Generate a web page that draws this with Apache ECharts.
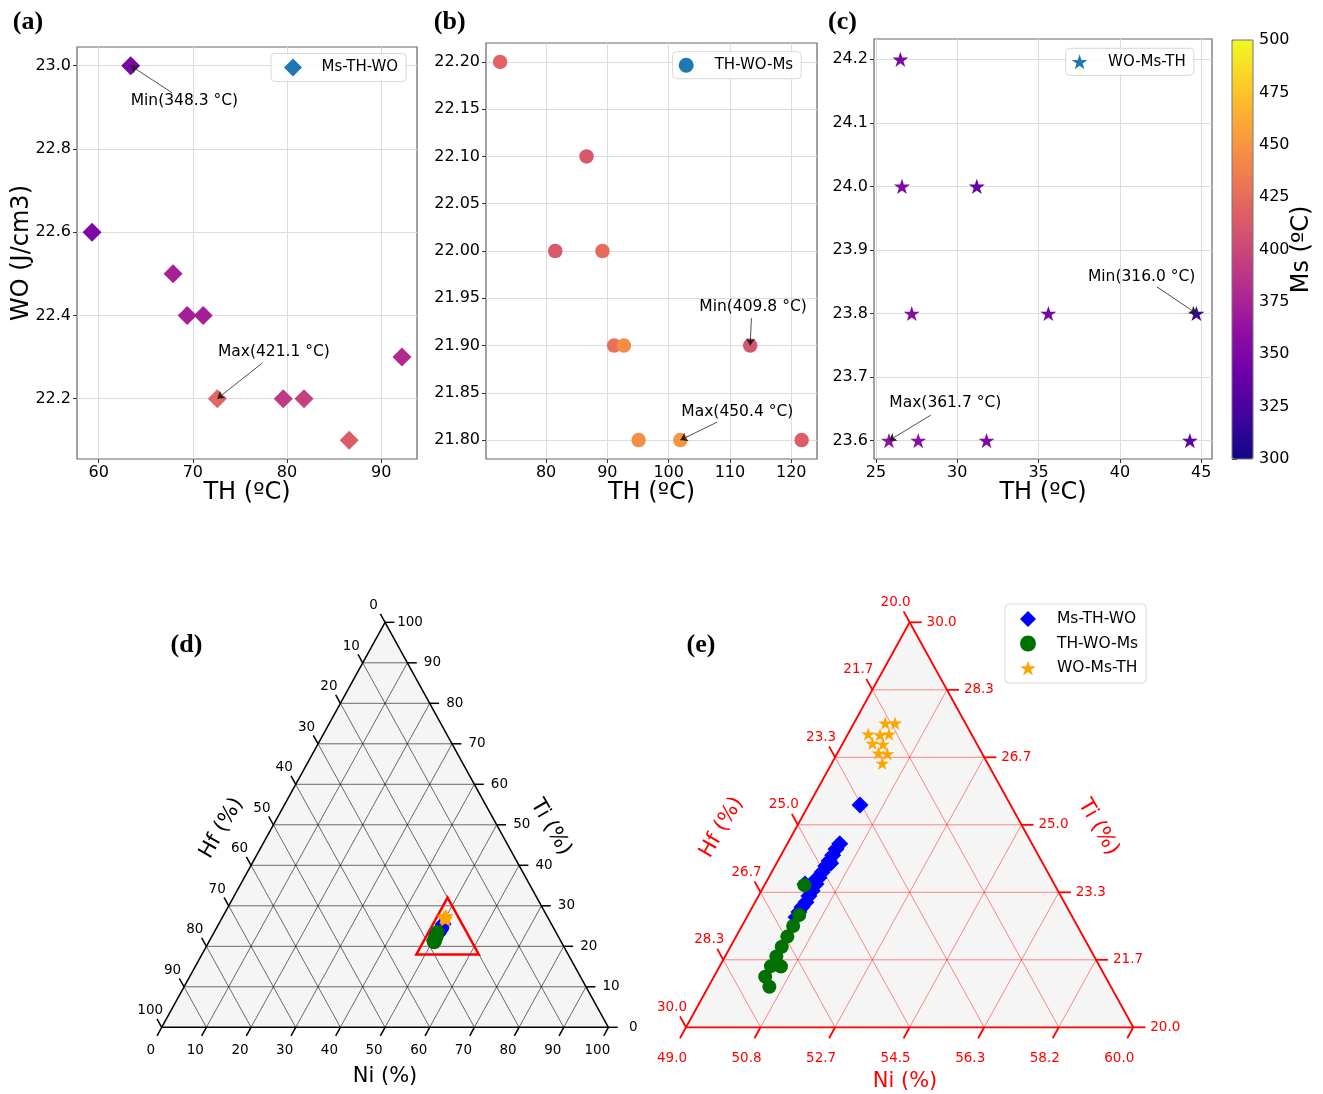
<!DOCTYPE html>
<html>
<head>
<meta charset="utf-8">
<script src="https://cdn.jsdelivr.net/npm/echarts@6.0.0/dist/echarts.min.js"></script>
<style>
  html, body { margin: 0; padding: 0; background: #fff; }
  #main { width: 1323px; height: 1094px; }
</style>
</head>
<body>
<div id="main"></div>
<script>
// panel (a) Ms-TH-WO
var aTH = [63.4, 59.3, 67.9, 69.4, 71.1, 72.6, 79.6, 81.8, 86.6, 92.2];
var aWO = [23.0, 22.6, 22.5, 22.4, 22.4, 22.2, 22.2, 22.2, 22.1, 22.3];
var aMs = [348.3, 352, 374, 372, 373, 421.1, 390, 396, 415, 380];
// panel (b) TH-WO-Ms
var bTH = [72.5, 86.6, 81.5, 89.2, 91.1, 92.7, 113.3, 95.1, 101.9, 121.7];
var bWO = [22.2, 22.1, 22.0, 22.0, 21.9, 21.9, 21.9, 21.8, 21.8, 21.8];
var bMs = [420, 411, 412, 425, 428, 444, 409.8, 446, 450.4, 415];
// panel (c) WO-Ms-TH
var cTH = [26.5, 26.6, 31.2, 27.2, 35.6, 44.7, 25.8, 27.6, 31.8, 44.3];
var cWO = [24.2, 24.0, 24.0, 23.8, 23.8, 23.8, 23.6, 23.6, 23.6, 23.6];
var cMs = [350, 352, 338, 355, 345, 316.0, 361.7, 358, 352, 333];

var aXTicks = [60, 70, 80, 90];
var aYTicks = [22.2, 22.4, 22.6, 22.8, 23.0];
var bXTicks = [80, 90, 100, 110, 120];
var bYTicks = [21.8, 21.85, 21.9, 21.95, 22.0, 22.05, 22.1, 22.15, 22.2];
var cXTicks = [25, 30, 35, 40, 45];
var cYTicks = [23.6, 23.7, 23.8, 23.9, 24.0, 24.1, 24.2];
var msTicks = [300, 325, 350, 375, 400, 425, 450, 475, 500];

// compositions [Ni %, Ti %], Hf is the rest
var msthwoComp = [
  [50.26, 25.49], [50.29, 24.53], [50.27, 24.40], [50.27, 24.25], [50.26, 24.11],
  [50.25, 23.98], [50.24, 23.83], [50.24, 23.69], [50.25, 23.54], [49.98, 23.54],
  [50.25, 23.37], [50.24, 23.24], [50.25, 23.09], [50.22, 22.97], [50.21, 22.85],
  [50.21, 22.72], [50.33, 24.05], [50.17, 23.62]
];
var thwomsComp = [
  [49.98, 23.51], [50.26, 22.77], [50.26, 22.50], [50.26, 22.24], [50.26, 21.99],
  [50.26, 21.75], [50.51, 21.50], [50.26, 21.51], [50.26, 21.25], [50.50, 21.00]
];
var womsthComp = [
  [50.01, 27.51], [49.77, 27.51], [49.50, 27.24], [49.80, 27.22], [50.01, 27.24],
  [49.73, 27.01], [50.00, 26.99], [50.01, 26.77], [50.24, 26.75], [50.24, 26.52]
];
// zoom region marked in (d)
var zoomBox = [[48, 18], [62, 18], [48, 32]];

var dTickLabels = ['0', '10', '20', '30', '40', '50', '60', '70', '80', '90', '100'];
var eNiLabels = ['49.0', '50.8', '52.7', '54.5', '56.3', '58.2', '60.0'];
var eTiLabels = ['20.0', '21.7', '23.3', '25.0', '26.7', '28.3', '30.0'];
var eHfLabels = ['20.0', '21.7', '23.3', '25.0', '26.7', '28.3', '30.0'];

var plasma = ['#0d0887', '#41049d', '#6a00a8', '#8f0da4', '#b12a90', '#cc4778',
  '#e16462', '#f2844b', '#fca636', '#fcce25', '#f0f921'];
var starPath = 'path://M50,0L61.23,34.55L97.55,34.55L68.17,55.9L79.39,90.45L50,69.1L20.61,90.45L31.83,55.9L2.45,34.55L38.77,34.55Z';

function zip3(x, y, z) {
  return x.map(function (v, i) { return [v, y[i], z[i]]; });
}

// a = fraction along bottom axis, b = fraction along right axis (height)
function tXY(a, b) { return [a + b / 2, b]; }
function dPos(p) { return tXY(p[0] / 100, p[1] / 100); }
function ePos(p) { return tXY((p[0] - 49) / 11, (p[1] - 20) / 10); }

function topAxis(gi, min, max, ticks, digits, name, gap) {
  return {
    gridIndex: gi, type: 'value', min: min, max: max,
    name: name, nameLocation: 'middle', nameGap: gap, nameMoveOverlap: false,
    nameTextStyle: { fontSize: 24, color: '#000' },
    axisLine: { show: false, onZero: false },
    axisTick: { show: true, customValues: ticks, length: 4, lineStyle: { color: '#333' } },
    axisLabel: {
      customValues: ticks, fontSize: 16, color: '#000', margin: 6,
      formatter: function (v) { return v.toFixed(digits); }
    },
    splitLine: { show: true, lineStyle: { color: '#dcdcdc', width: 1 } }
  };
}

function hiddenAxis(gi) {
  return { gridIndex: gi, type: 'value', min: 0, max: 1, show: false };
}

function annotSeries(gi, th, wo, ms, notes) {
  var marks = [];
  var lines = [];
  notes.forEach(function (n) {
    var v = n.kind === 'min' ? Math.min.apply(null, ms) : Math.max.apply(null, ms);
    var idx = ms.indexOf(v);
    var txt = (n.kind === 'min' ? 'Min(' : 'Max(') + v.toFixed(1) + ' °C)';
    marks.push({ value: n.textAt, name: txt });
    lines.push([{ coord: n.from }, { coord: [th[idx], wo[idx]] }]);
  });
  return {
    type: 'scatter', xAxisIndex: gi, yAxisIndex: gi, silent: true, z: 6,
    symbolSize: 0, itemStyle: { color: 'transparent', opacity: 1 }, data: marks,
    label: { show: true, position: 'right', distance: 0, formatter: '{b}', fontSize: 15.5, color: '#000', opacity: 1 },
    markLine: {
      silent: true, symbol: ['none', 'arrow'], symbolSize: 7, precision: 4,
      label: { show: false },
      lineStyle: { color: '#222', width: 0.8, type: 'solid', opacity: 1 },
      data: lines
    }
  };
}

function segSeries(gi, segs, color, width, z) {
  return {
    type: 'custom', xAxisIndex: gi, yAxisIndex: gi, silent: true, z: z, clip: false,
    data: segs, encode: { x: [0, 2], y: [1, 3] },
    renderItem: function (params, api) {
      var p1 = api.coord([api.value(0), api.value(1)]);
      var p2 = api.coord([api.value(2), api.value(3)]);
      return {
        type: 'line',
        shape: { x1: p1[0], y1: p1[1], x2: p2[0], y2: p2[1] },
        style: { stroke: color, lineWidth: width }
      };
    }
  };
}

function polySeries(gi, polys, fill, stroke, width, z) {
  return {
    type: 'custom', xAxisIndex: gi, yAxisIndex: gi, silent: true, z: z, clip: false,
    data: polys.map(function (p, i) { return [0, 0]; }),
    renderItem: function (params, api) {
      var pts = polys[params.dataIndex].map(function (q) { return api.coord(q); });
      return {
        type: 'polygon', shape: { points: pts },
        style: { fill: fill, stroke: stroke, lineWidth: width, lineJoin: 'miter' }
      };
    }
  };
}

function labelSeries(gi, pts, texts, offset, color) {
  return {
    type: 'scatter', xAxisIndex: gi, yAxisIndex: gi, silent: true, z: 4, clip: false,
    symbolSize: 0, itemStyle: { color: 'transparent', opacity: 1 },
    data: pts.map(function (p, i) { return { value: p, name: texts[i] }; }),
    label: { show: true, position: 'inside', offset: offset, formatter: '{b}', fontSize: 13.5, color: color, opacity: 1 }
  };
}

function ternaryFrame(gi, labels, tickLen, st) {
  var n = labels.bottom.length - 1;
  var grid = [], ticks = [], k, f;
  for (k = 1; k < n; k++) {
    f = k / n;
    grid.push(tXY(0, f).concat(tXY(1 - f, f)));
    grid.push(tXY(f, 0).concat(tXY(f, 1 - f)));
    grid.push(tXY(1 - f, 0).concat(tXY(0, 1 - f)));
  }
  for (k = 0; k <= n; k++) {
    f = k / n;
    ticks.push(tXY(f, 0).concat(tXY(f, -tickLen)));
    ticks.push(tXY(0, 1 - f).concat(tXY(-tickLen, 1 - f + tickLen)));
    ticks.push(tXY(1 - f, f).concat(tXY(1 - f + tickLen, f)));
  }
  var edges = [
    tXY(0, 0).concat(tXY(1, 0)),
    tXY(1, 0).concat(tXY(0, 1)),
    tXY(0, 1).concat(tXY(0, 0))
  ];
  var bottom = labels.bottom.map(function (t, i) { return tXY(i / n, 0); });
  var left = labels.left.map(function (t, i) { return tXY(0, 1 - i / n); });
  var right = labels.right.map(function (t, i) { return tXY(1 - i / n, i / n); });
  return [
    polySeries(gi, [[tXY(0, 0), tXY(1, 0), tXY(0, 1)]], '#f5f5f5', 'none', 0, 1),
    segSeries(gi, grid, st.grid, st.gridWidth, 2),
    segSeries(gi, edges.concat(ticks), st.edge, st.edgeWidth, 3),
    labelSeries(gi, bottom, labels.bottom, st.offB, st.label),
    labelSeries(gi, left, labels.left, st.offL, st.label),
    labelSeries(gi, right, labels.right, st.offR, st.label)
  ];
}

function pointSeries(gi, name, comp, pos, symbol, size, color) {
  return {
    type: 'scatter', name: name, xAxisIndex: gi, yAxisIndex: gi, clip: false, z: 5,
    symbol: symbol, symbolSize: size, symbolKeepAspect: true,
    itemStyle: { color: color, opacity: 1 }, data: comp.map(pos)
  };
}

var chart = echarts.init(document.getElementById('main'), null, { renderer: 'canvas' });

var series = [
  { type: 'scatter', name: 'Ms-TH-WO', xAxisIndex: 0, yAxisIndex: 0, z: 3,
    symbol: 'diamond', symbolSize: 19, itemStyle: { opacity: 1 }, data: zip3(aTH, aWO, aMs) },
  { type: 'scatter', name: 'TH-WO-Ms', xAxisIndex: 1, yAxisIndex: 1, z: 3,
    symbol: 'circle', symbolSize: 14.5, itemStyle: { opacity: 1 }, data: zip3(bTH, bWO, bMs) },
  { type: 'scatter', name: 'WO-Ms-TH', xAxisIndex: 2, yAxisIndex: 2, z: 3,
    symbol: starPath, symbolSize: 16, symbolKeepAspect: true, itemStyle: { opacity: 1 }, data: zip3(cTH, cWO, cMs) },
  annotSeries(0, aTH, aWO, aMs, [
    { kind: 'min', textAt: [63.4, 22.915], from: [67.8, 22.935] },
    { kind: 'max', textAt: [72.66, 22.312], from: [77.4, 22.286] }
  ]),
  annotSeries(1, bTH, bWO, bMs, [
    { kind: 'min', textAt: [105.0, 21.941], from: [113.5, 21.929] },
    { kind: 'max', textAt: [102.06, 21.830], from: [107.9, 21.819] }
  ]),
  annotSeries(2, cTH, cWO, cMs, [
    { kind: 'min', textAt: [38.03, 23.858], from: [42.27, 23.842] },
    { kind: 'max', textAt: [25.82, 23.659], from: [28.37, 23.64] }
  ]),
  { type: 'scatter', xAxisIndex: 3, yAxisIndex: 3, data: [], silent: true }
];

series = series.concat(
  ternaryFrame(4, { bottom: dTickLabels, left: dTickLabels, right: dTickLabels }, 0.021, {
    grid: 'rgba(0,0,0,0.72)', gridWidth: 0.8, edge: '#000', edgeWidth: 1.5, label: '#000',
    offB: [-11, 23], offL: [-11.5, -16.5], offR: [25, 0]
  }),
  [
    polySeries(4, [zoomBox.map(dPos)], 'none', '#ff0000', 2.5, 4),
    pointSeries(4, 'Ms-TH-WO', msthwoComp, dPos, 'diamond', 17, '#0000ff'),
    pointSeries(4, 'TH-WO-Ms', thwomsComp, dPos, 'circle', 14, '#007000'),
    pointSeries(4, 'WO-Ms-TH', womsthComp, dPos, starPath, 14, '#ffa500')
  ],
  ternaryFrame(5, { bottom: eNiLabels, left: eHfLabels, right: eTiLabels }, 0.027, {
    grid: 'rgba(255,0,0,0.5)', gridWidth: 0.9, edge: '#ff0000', edgeWidth: 1.8, label: '#ff0000',
    offB: [-14, 31], offL: [-14, -20], offR: [32, 0]
  }),
  [
    pointSeries(5, 'Ms-TH-WO', msthwoComp, ePos, 'diamond', 17, '#0000ff'),
    pointSeries(5, 'TH-WO-Ms', thwomsComp, ePos, 'circle', 14, '#007000'),
    pointSeries(5, 'WO-Ms-TH', womsthComp, ePos, starPath, 14, '#ffa500')
  ]
);

function panelText(txt, x, y) {
  return {
    type: 'text', x: x, y: y, silent: true,
    style: { text: txt, font: 'bold 26px "Liberation Serif"', fill: '#000',
      align: 'center', verticalAlign: 'middle', textAlign: 'center', textVerticalAlign: 'middle' }
  };
}
function ternTitle(txt, x, y, rot, color) {
  return {
    type: 'text', x: x, y: y, rotation: rot, silent: true,
    style: { text: txt, font: '21px "DejaVu Sans"', fill: color,
      align: 'center', verticalAlign: 'middle', textAlign: 'center', textVerticalAlign: 'middle' }
  };
}

function boxLegend(left, top, itemW, itemH, pad, textPad, item) {
  return {
    left: left, top: top, orient: 'vertical', padding: pad, selectedMode: false,
    itemWidth: itemW, itemHeight: itemH, itemGap: 8.5, symbolKeepAspect: true,
    borderColor: '#d8d8d8', borderWidth: 1, borderRadius: 4, backgroundColor: 'rgba(255,255,255,0.85)',
    textStyle: { fontSize: 15, color: '#000', padding: [0, 0, 0, textPad] },
    data: item
  };
}

var option = {
  animation: false,
  backgroundColor: '#fff',
  textStyle: { fontFamily: 'DejaVu Sans' },
  grid: [
    { left: 77, top: 47, width: 340, height: 412, show: true, borderColor: '#666', borderWidth: 1.2, backgroundColor: 'transparent', outerBoundsMode: 'none' },
    { left: 486, top: 43, width: 331, height: 416, show: true, borderColor: '#666', borderWidth: 1.2, backgroundColor: 'transparent', outerBoundsMode: 'none' },
    { left: 874, top: 39, width: 338, height: 420, show: true, borderColor: '#666', borderWidth: 1.2, backgroundColor: 'transparent', outerBoundsMode: 'none' },
    { left: 1232, top: 40, width: 21, height: 419, show: true, borderColor: '#777', borderWidth: 1, backgroundColor: 'transparent', z: 10, outerBoundsMode: 'none' },
    { left: 161.7, top: 622.3, width: 446.7, height: 405, outerBoundsMode: 'none' },
    { left: 686, top: 622.3, width: 447.3, height: 405, outerBoundsMode: 'none' }
  ],
  xAxis: [
    topAxis(0, 57.7, 93.8, aXTicks, 0, 'TH (ºC)', 22),
    topAxis(1, 70.2, 124.2, bXTicks, 0, 'TH (ºC)', 22),
    topAxis(2, 24.88, 45.66, cXTicks, 0, 'TH (ºC)', 22),
    hiddenAxis(3),
    hiddenAxis(4),
    hiddenAxis(5)
  ],
  yAxis: [
    topAxis(0, 22.055, 23.045, aYTicks, 1, 'WO (J/cm3)', 43),
    topAxis(1, 21.78, 22.22, bYTicks, 2, '', 40),
    topAxis(2, 23.571, 24.232, cYTicks, 1, '', 40),
    {
      gridIndex: 3, type: 'value', position: 'right', min: 300, max: 500,
      name: 'Ms (ºC)', nameLocation: 'middle', nameGap: 37, nameMoveOverlap: false,
      nameTextStyle: { fontSize: 24, color: '#000' },
      axisLine: { show: false },
      axisTick: { show: true, customValues: msTicks, length: 5, lineStyle: { color: '#333' } },
      axisLabel: { customValues: msTicks, fontSize: 16, color: '#000', margin: 6 },
      splitLine: { show: false }
    },
    hiddenAxis(4),
    hiddenAxis(5)
  ],
  visualMap: {
    type: 'continuous', min: 300, max: 500, dimension: 2, seriesIndex: [0, 1, 2],
    inRange: { color: plasma }, orient: 'vertical', left: 1232, top: 40,
    itemWidth: 21, itemHeight: 419, calculable: false, hoverLink: false,
    padding: 0, text: null, showLabel: false
  },
  legend: [
    boxLegend(271, 53.5, 18, 18, [5, 8, 5, 13], 14.5, [{ name: 'Ms-TH-WO', icon: 'diamond', itemStyle: { color: '#1f77b4', opacity: 1 } }]),
    boxLegend(672.7, 51.7, 30, 15, [6, 8, 6, 6], 8.5, [{ name: 'TH-WO-Ms', icon: 'circle', itemStyle: { color: '#1f77b4', opacity: 1 } }]),
    boxLegend(1065.7, 48.3, 30, 15, [6, 8, 6, 6], 8.5, [{ name: 'WO-Ms-TH', icon: starPath, itemStyle: { color: '#1f77b4', opacity: 1 } }]),
    {
      left: 1005, top: 604, orient: 'vertical', padding: [7, 8, 7, 15], selectedMode: false,
      itemWidth: 16, itemHeight: 16, itemGap: 8.5, symbolKeepAspect: true,
      borderColor: '#d8d8d8', borderWidth: 1, borderRadius: 4, backgroundColor: 'rgba(255,255,255,0.85)',
      textStyle: { fontSize: 15.5, color: '#000', padding: [0, 0, 0, 16] },
      data: [
        { name: 'Ms-TH-WO', icon: 'diamond', itemStyle: { color: '#0000ff', opacity: 1 } },
        { name: 'TH-WO-Ms', icon: 'circle', itemStyle: { color: '#007000', opacity: 1 } },
        { name: 'WO-Ms-TH', icon: starPath, itemStyle: { color: '#ffa500', opacity: 1 } }
      ]
    }
  ],
  graphic: [
    panelText('(a)', 28, 22),
    panelText('(b)', 449.7, 22),
    panelText('(c)', 842.5, 22),
    panelText('(d)', 186.5, 645),
    panelText('(e)', 701, 645),
    ternTitle('Ni (%)', 385, 1077, 0, '#000'),
    ternTitle('Hf (%)', 221.7, 828, Math.PI / 3, '#000'),
    ternTitle('Ti (%)', 550.7, 827.3, -Math.PI / 3, '#000'),
    ternTitle('Ni (%)', 905, 1082, 0, '#ff0000'),
    ternTitle('Hf (%)', 721.7, 827.3, Math.PI / 3, '#ff0000'),
    ternTitle('Ti (%)', 1098.3, 827.3, -Math.PI / 3, '#ff0000')
  ],
  series: series
};

chart.setOption(option);
</script>
</body>
</html>
